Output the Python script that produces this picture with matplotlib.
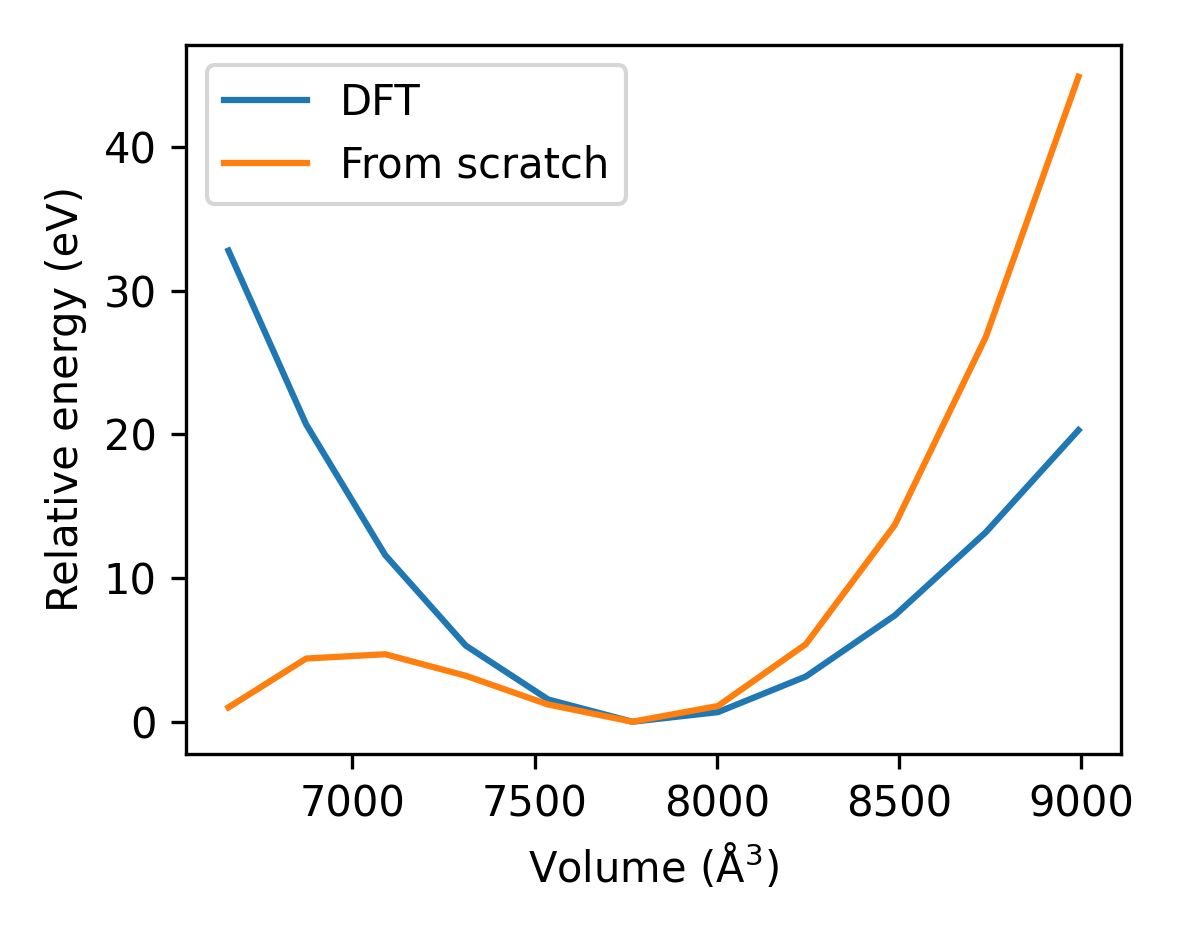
import matplotlib
matplotlib.use("Agg")
import matplotlib.pyplot as plt

volume = [6660, 6873, 7090, 7311, 7537, 7768, 8003, 8244, 8488, 8738, 8992]
dft = [32.8, 20.7, 11.6, 5.3, 1.55, 0.0, 0.67, 3.15, 7.4, 13.2, 20.3]
scratch = [1.0, 4.4, 4.7, 3.2, 1.2, 0.0, 1.1, 5.4, 13.7, 26.8, 44.9]

fig = plt.figure(figsize=(1181/300, 944/300), dpi=300)
ax = fig.add_axes([186/1181, 1 - 754/944, (1121-186)/1181, (754-44.5)/944])
ax.plot(volume, dft, label="DFT")
ax.plot(volume, scratch, label="From scratch")
ax.set_xlabel("Volume (Å$^3$)")
ax.set_ylabel("Relative energy (eV)")
ax.legend(loc="upper left")
fig.savefig("out.png", dpi=300)
